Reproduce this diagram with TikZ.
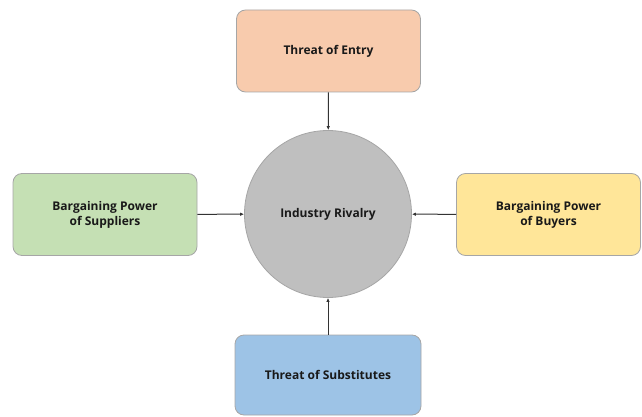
\documentclass[tikz,border=0pt]{standalone}
\usepackage{fontspec}
\setmainfont{Open Sans}
\usetikzlibrary{arrows.meta}
\definecolor{entryc}{HTML}{F8CBAD}
\definecolor{suppc}{HTML}{C5E0B4}
\definecolor{buyc}{HTML}{FFE699}
\definecolor{subc}{HTML}{9DC3E6}
\definecolor{rivc}{HTML}{BFBFBF}
\definecolor{edgec}{HTML}{A6A6A6}
\definecolor{linec}{HTML}{333333}
\begin{document}
\begin{tikzpicture}[x=1pt,y=-1pt,
  lbl/.style={font=\bfseries\fontsize{12}{15}\selectfont, text=black!90},
  forcebox/.style={lbl, draw=edgec, line width=0.8pt, rounded corners=9pt, minimum width=184pt, minimum height=82pt, inner sep=0pt, align=center},
  conn/.style={draw=linec, line width=1pt, -{Latex[length=4pt,width=3.5pt]}}]
\useasboundingbox (0,0) rectangle (642,417);
\node[lbl, circle, draw=edgec, line width=0.8pt, fill=rivc, minimum size=167pt, inner sep=0pt] (riv) at (328,214) {Industry Rivalry};
\node[forcebox, fill=entryc] (entry) at (328.5,51) {Threat of Entry};
\node[forcebox, fill=suppc] (supp) at (105,214.5) {Bargaining Power\\of Suppliers};
\node[forcebox, fill=buyc] (buy) at (548.5,214.5) {Bargaining Power\\of Buyers};
\node[forcebox, fill=subc, minimum width=186pt, minimum height=80pt] (sub) at (328,375) {Threat of Substitutes};
\draw[conn] (entry) -- (riv);
\draw[conn] (supp) -- (riv);
\draw[conn] (buy) -- (riv);
\draw[conn] (sub) -- (riv);
\end{tikzpicture}
\end{document}
